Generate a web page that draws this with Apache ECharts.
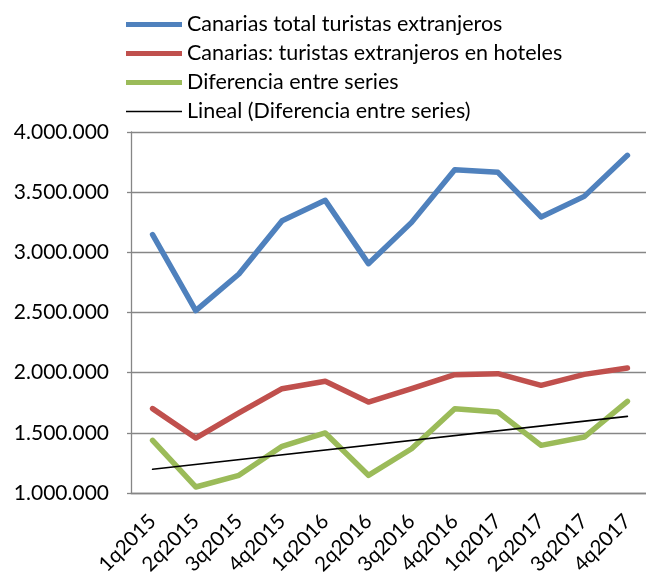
<!DOCTYPE html>
<html>
<head>
<meta charset="utf-8">
<script src="https://cdn.jsdelivr.net/npm/echarts@6/dist/echarts.min.js"></script>
<style>
  html, body { margin: 0; padding: 0; background: #fff; }
  #chart { width: 646px; height: 578px; }
</style>
</head>
<body>
<div id="chart"></div>
<script>
// categorias del eje x
var quarters = ['1q2015', '2q2015', '3q2015', '4q2015', '1q2016', '2q2016', '3q2016', '4q2016', '1q2017', '2q2017', '3q2017', '4q2017'];

var totalTuristas = [3147000, 2515000, 2820000, 3263000, 3432000, 2906000, 3249000, 3687000, 3665000, 3294000, 3465000, 3806000];
var turistasHoteles = [1701000, 1457000, 1665000, 1867000, 1928000, 1756000, 1867000, 1983000, 1992000, 1895000, 1986000, 2039000];
var diferencia = [1438000, 1050000, 1147000, 1388000, 1499000, 1147000, 1368000, 1701000, 1673000, 1396000, 1465000, 1762000];

// tendencia lineal: solo extremos
var trendStart = 1197000;
var trendEnd = 1637000;

var seriesNames = [
    'Canarias total turistas extranjeros',
    'Canarias: turistas extranjeros en hoteles',
    'Diferencia entre series',
    'Lineal (Diferencia entre series)'
];

var FONT = 'Lato';
var ICON_THICK = 'path://M0,0h56v5h-56z';
var ICON_THIN = 'path://M0,0h56v1.6h-56z';

var trendData = quarters.map(function (q, i) {
    if (i === 0) return trendStart;
    if (i === quarters.length - 1) return trendEnd;
    return null;
});

function miles(v) {
    return String(v).replace(/\B(?=(\d{3})+(?!\d))/g, '.');
}

function lineSerie(name, data, color, width) {
    return {
        name: name,
        type: 'line',
        data: data,
        symbol: 'none',
        connectNulls: true,
        animation: false,
        lineStyle: { color: color, width: width, cap: 'round', join: 'round' },
        itemStyle: { color: color }
    };
}

var chart = echarts.init(document.getElementById('chart'));

var option = {
    backgroundColor: '#ffffff',
    legend: {
        orient: 'vertical',
        left: 121,
        top: 8,
        itemWidth: 56,
        itemHeight: 5,
        itemGap: 6,
        symbolKeepAspect: true,
        textStyle: { fontFamily: FONT, fontSize: 21.5, color: '#000', lineHeight: 23 },
        data: [
            { name: seriesNames[0], icon: ICON_THICK },
            { name: seriesNames[1], icon: ICON_THICK },
            { name: seriesNames[2], icon: ICON_THICK },
            { name: seriesNames[3], icon: ICON_THIN }
        ]
    },
    grid: {
        left: 131,
        right: -3,
        top: 132,
        bottom: 85,
        containLabel: false,
        outerBoundsMode: 'none'
    },
    xAxis: {
        type: 'category',
        boundaryGap: true,
        data: quarters,
        axisLine: { show: true, lineStyle: { color: '#868686', width: 1.3 } },
        axisTick: { show: false },
        axisLabel: {
            interval: 0,
            rotate: 45,
            margin: 25,
            fontFamily: FONT,
            fontSize: 20.5,
            color: '#000'
        },
        splitLine: { show: false }
    },
    yAxis: {
        type: 'value',
        min: 1000000,
        max: 4000000,
        interval: 500000,
        axisLine: { show: true, lineStyle: { color: '#868686', width: 1.3 } },
        axisTick: { show: true, length: 4, lineStyle: { color: '#868686', width: 1.3 } },
        axisLabel: {
            margin: 22,
            fontFamily: FONT,
            fontSize: 21,
            color: '#000',
            formatter: miles
        },
        splitLine: { show: true, lineStyle: { color: '#868686', width: 1.3 } }
    },
    series: [
        lineSerie(seriesNames[0], totalTuristas, '#4F81BD', 5.5),
        lineSerie(seriesNames[1], turistasHoteles, '#C0504D', 5.5),
        lineSerie(seriesNames[2], diferencia, '#9BBB59', 5.5),
        lineSerie(seriesNames[3], trendData, '#000000', 1.6)
    ]
};

chart.setOption(option);
</script>
</body>
</html>
